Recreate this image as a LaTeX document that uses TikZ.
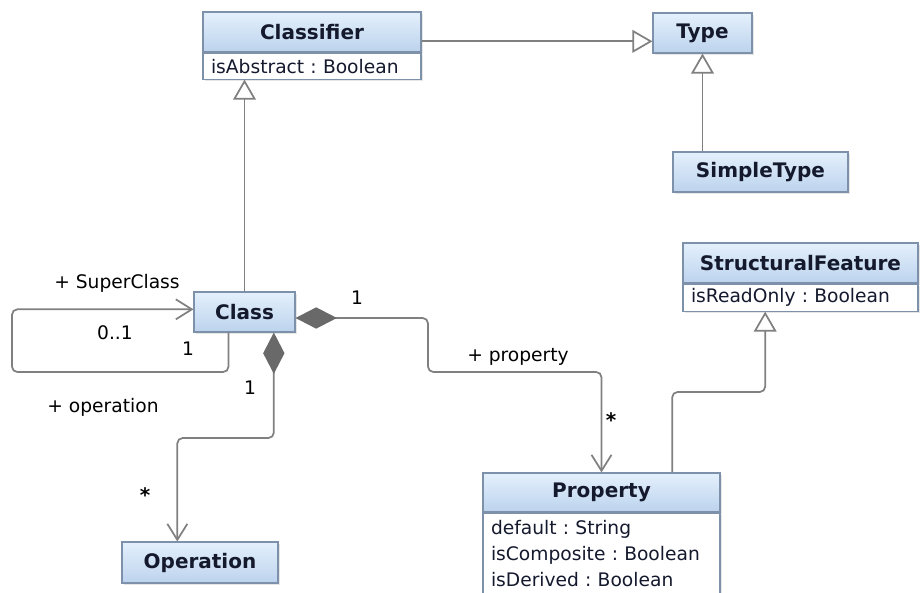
\documentclass[tikz,border=0pt]{standalone}
\usepackage{fontspec}
\setmainfont{DejaVu Sans}
\usetikzlibrary{arrows.meta,positioning,shadows}
\frenchspacing

\definecolor{umlline}{RGB}{128,128,128}
\definecolor{umlborder}{RGB}{125,145,170}
\definecolor{umltop}{RGB}{228,240,252}
\definecolor{umlbot}{RGB}{188,211,237}
\definecolor{umldiamond}{RGB}{105,105,105}
\definecolor{umltext}{RGB}{20,25,45}

\begin{document}
\begin{tikzpicture}[x=0.75pt, y=-0.75pt,
  head/.style={draw=umlborder, line width=0.8pt, top color=umltop, bottom color=umlbot,
    text=umltext, font=\fontsize{15}{18}\selectfont\bfseries, minimum height=30pt, inner sep=0pt,
    drop shadow={opacity=0.2, shadow xshift=1.5pt, shadow yshift=-1.5pt}},
  attrs/.style={draw=umlborder, line width=0.8pt, fill=white, text=umltext,
    font=\fontsize{14}{19.5}\selectfont, align=left, inner xsep=6pt, inner ysep=0pt,
    drop shadow={opacity=0.2, shadow xshift=1.5pt, shadow yshift=-1.5pt}},
  gen/.style={draw=umlline, line width=1.3pt, rounded corners=4pt, -{Triangle[open, length=15pt, width=17pt]}},
  assoc/.style={draw=umlline, line width=1.3pt, rounded corners=4pt, -{Straight Barb[length=12pt, width=15pt]}},
  comp/.style={assoc, {Diamond[color=umldiamond, fill=umldiamond, length=31pt, width=16pt]}-{Straight Barb[length=12pt, width=15pt]}},
  role/.style={font=\fontsize{14}{16}\selectfont, inner sep=1pt}]

\clip (0,0) rectangle (920,592);

% classes
\node[head, minimum width=163.5pt] (classifier) at (312,32) {Classifier};
\node[attrs, text width=151.5pt, minimum height=19.5pt, below=0pt of classifier] (classifierattrs) {isAbstract : Boolean};
\node[head, minimum width=74.25pt] (type) at (702.5,33) {Type};
\node[head, minimum width=131.25pt] (simpletype) at (760.5,172) {SimpleType};
\node[head, minimum width=75.75pt] (class) at (244.5,312) {Class};
\node[head, minimum width=176.25pt] (structuralfeature) at (800.5,263) {StructuralFeature};
\node[attrs, text width=164.25pt, minimum height=20.25pt, below=0pt of structuralfeature] (structuralattrs) {isReadOnly : Boolean};
\node[head, minimum width=177.75pt, minimum height=29.25pt] (property) at (601.5,492.5) {Property};
\node[attrs, text width=165.75pt, minimum height=61pt, below=0pt of property] (propertyattrs) {default : String\\isComposite : Boolean\\isDerived : Boolean};
\node[head, minimum width=117pt, minimum height=30.75pt] (operation) at (200,562.5) {Operation};

% bends
\coordinate (selfbend) at (12,372);
\coordinate (opbend) at (273.8,438);
\coordinate (propbend) at (428,372);
\coordinate (sfbend) at (672.2,392);

% generalizations
\draw[gen] ([yshift=-7pt]classifier.east) -- ([yshift=-7pt]classifier.east -| type.west);
\draw[gen] (simpletype.north -| type.south) -- (type.south);
\draw[gen] (class.north) -- (class.north |- classifierattrs.south);
\draw[gen] ([xshift=53pt]property.north) -- (sfbend) -| ([xshift=-26.5pt]structuralattrs.south);

% associations
\draw[assoc] ([xshift=-12pt]class.south) |- (selfbend) |- ([yshift=2pt]class.west);
\draw[comp] ([xshift=22pt]class.south) -- (opbend) -| ([xshift=-17pt]operation.north);
\draw[comp] ([yshift=-4.5pt]class.east) -| (propbend) -| (property.north);

% roles and multiplicities
\node[role] (superclassrole) at (117,283) {+ SuperClass};
\node[role] (superclassmult) at (115,333) {0..1};
\node[role] (subclassmult) at (188,349) {1};
\node[role] (operationrole) at (103,407) {+ operation};
\node[role] (operationownermult) at (250,388) {1};
\node[role, font=\fontsize{15}{16}\selectfont\bfseries] (operationmult) at (145,495) {*};
\node[role] (propertyownermult) at (357,298) {1};
\node[role] (propertyrole) at (518,357) {+ property};
\node[role, font=\fontsize{15}{16}\selectfont\bfseries] (propertymult) at (611,420) {*};
\end{tikzpicture}
\end{document}
